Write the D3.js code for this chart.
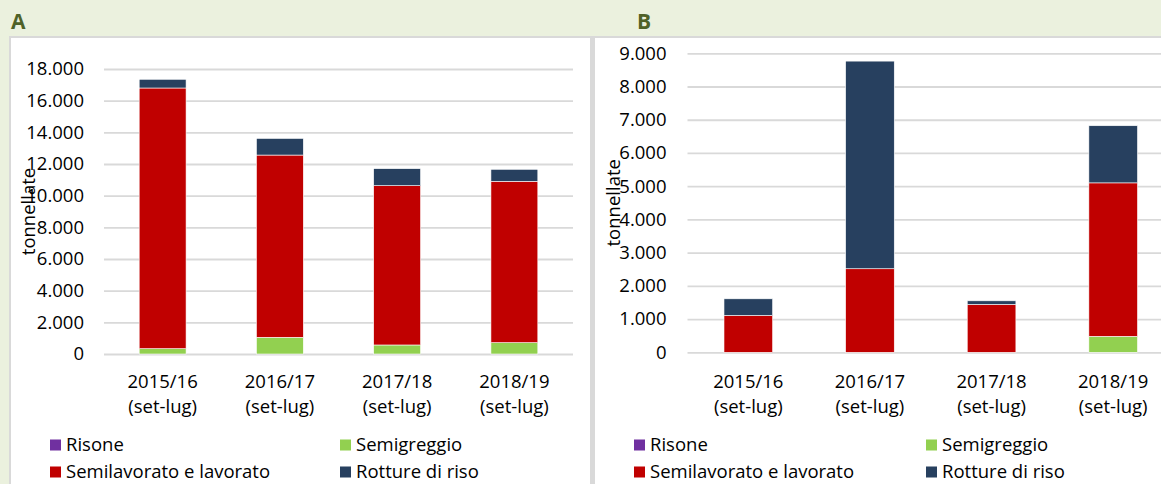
<!DOCTYPE html>
<html><head><meta charset="utf-8">
<script src="https://cdn.jsdelivr.net/npm/d3@7"></script>
<style>
html,body{margin:0;padding:0;background:#EBF1DE;}
svg{display:block;font-family:"Open Sans",sans-serif;}
</style></head>
<body>
<svg id="chart" width="1161" height="484"></svg>
<script>
// ---- DATA ----
const categories = ["2015/16", "2016/17", "2017/18", "2018/19"];
const categorySub = "(set-lug)";
const seriesNames = ["Risone", "Semigreggio", "Semilavorato e lavorato", "Rotture di riso"];
const seriesColors = ["#7030A0", "#92D050", "#C00000", "#27405F"];

// Panel A (tonnellate)
const A_risone       = [0, 0, 0, 0];
const A_semigreggio  = [335, 1055, 570, 715];
const A_semilavorato = [16465, 11510, 10060, 10190];
const A_rotture      = [550, 1050, 1075, 760];
const A_ticks = [0, 2000, 4000, 6000, 8000, 10000, 12000, 14000, 16000, 18000];

// Panel B (tonnellate)
const B_risone       = [0, 0, 0, 0];
const B_semigreggio  = [0, 0, 0, 480];
const B_semilavorato = [1110, 2515, 1440, 4620];
const B_rotture      = [500, 6250, 110, 1720];
const B_ticks = [0, 1000, 2000, 3000, 4000, 5000, 6000, 7000, 8000, 9000];

const yTitle = "tonnellate";
// --------------

const svg = d3.select("#chart");
const W = 1161, H = 484;
const fmt = d3.formatLocale({decimal: ",", thousands: ".", grouping: [3], currency: ["€", ""]}).format(",d");

svg.append("rect").attr("width", W).attr("height", H).attr("fill", "#EBF1DE");

// panel frames
svg.append("rect").attr("x", 10).attr("y", 37).attr("width", 581).attr("height", 470)
  .attr("fill", "#fff").attr("stroke", "#D9D9D9").attr("stroke-width", 2);
svg.append("rect").attr("x", 594).attr("y", 37).attr("width", 600).attr("height", 470)
  .attr("fill", "#fff").attr("stroke", "#D9D9D9").attr("stroke-width", 2);
svg.append("rect").attr("x", 590).attr("y", 36).attr("width", 5).attr("height", 460).attr("fill", "#D9D9D9");

// panel letters
svg.append("text").attr("x", 11).attr("y", 29).text("A")
  .attr("font-size", 21).attr("font-weight", 700).attr("fill", "#4F6228");
svg.append("text").attr("x", 637).attr("y", 29).text("B")
  .attr("font-size", 21).attr("font-weight", 700).attr("fill", "#4F6228");

function buildRows(ris, semi, lav, rot) {
  return categories.map((c, i) => ({
    cat: c,
    "Risone": ris[i],
    "Semigreggio": semi[i],
    "Semilavorato e lavorato": lav[i],
    "Rotture di riso": rot[i]
  }));
}

function drawPanel(cfg) {
  const g = svg.append("g");
  const x = d3.scaleBand().domain(categories).range([cfg.x0, cfg.x1]).paddingInner(0.6).paddingOuter(0.3);
  const y = d3.scaleLinear().domain([0, cfg.max]).range([cfg.y0, cfg.y1]);

  // gridlines + tick labels
  const ax = g.append("g").attr("transform", `translate(${cfg.x0},0)`)
    .call(d3.axisLeft(y).tickValues(cfg.ticks).tickFormat(fmt)
      .tickSize(-(cfg.x1 - cfg.x0)).tickPadding(cfg.labelGap));
  ax.select(".domain").remove();
  ax.selectAll(".tick line").attr("stroke", "#D9D9D9").attr("stroke-width", 1.8);
  ax.selectAll(".tick text").attr("font-size", 18.5).attr("fill", "#000")
    .attr("font-family", "'Open Sans',sans-serif");

  // stacked bars
  const stack = d3.stack().keys(["Risone", "Semigreggio", "Semilavorato e lavorato", "Rotture di riso"]);
  const layers = stack(cfg.rows);
  g.selectAll("g.layer").data(layers).join("g")
    .attr("fill", (d, i) => seriesColors[i])
    .selectAll("rect").data(d => d.filter(s => s[1] - s[0] > 0)).join("rect")
    .attr("x", d => x(d.data.cat))
    .attr("width", x.bandwidth())
    .attr("y", d => y(d[1]))
    .attr("height", d => y(d[0]) - y(d[1]))
    .attr("stroke", "#fff").attr("stroke-width", 0.6);

  // category labels
  const lab = g.append("g");
  categories.forEach(c => {
    const cx = x(c) + x.bandwidth() / 2;
    lab.append("text").attr("x", cx).attr("y", 388).attr("text-anchor", "middle")
      .attr("font-size", 18.5).text(c);
    lab.append("text").attr("x", cx).attr("y", 413).attr("text-anchor", "middle")
      .attr("font-size", 18.5).text(categorySub);
  });

  // y axis title
  const cy = (cfg.y0 + cfg.y1) / 2;
  g.append("text").attr("transform", `translate(${cfg.titleX},${cy}) rotate(-90)`)
    .attr("text-anchor", "middle").attr("font-size", 18.5).text(yTitle);

  // legend
  const leg = g.append("g");
  const pos = [[0, 0], [cfg.legCol, 0], [0, 1], [cfg.legCol, 1]];
  seriesNames.forEach((s, i) => {
    const lx = cfg.legX + pos[i][0];
    const ly = 451 + pos[i][1] * 27;
    leg.append("rect").attr("x", lx).attr("y", ly - 11.5).attr("width", 11).attr("height", 11)
      .attr("fill", seriesColors[i]);
    leg.append("text").attr("x", lx + 16).attr("y", ly).attr("font-size", 18.5).text(s);
  });
}

drawPanel({
  rows: buildRows(A_risone, A_semigreggio, A_semilavorato, A_rotture),
  x0: 104, x1: 573, y0: 354, y1: 69, max: 18000, ticks: A_ticks,
  labelGap: 20, titleX: 35, legX: 50, legCol: 290
});
drawPanel({
  rows: buildRows(B_risone, B_semigreggio, B_semilavorato, B_rotture),
  x0: 687.5, x1: 1174, y0: 352.3, y1: 53.3, max: 9000, ticks: B_ticks,
  labelGap: 21, titleX: 620, legX: 634, legCol: 292
});
</script>
</body></html>
